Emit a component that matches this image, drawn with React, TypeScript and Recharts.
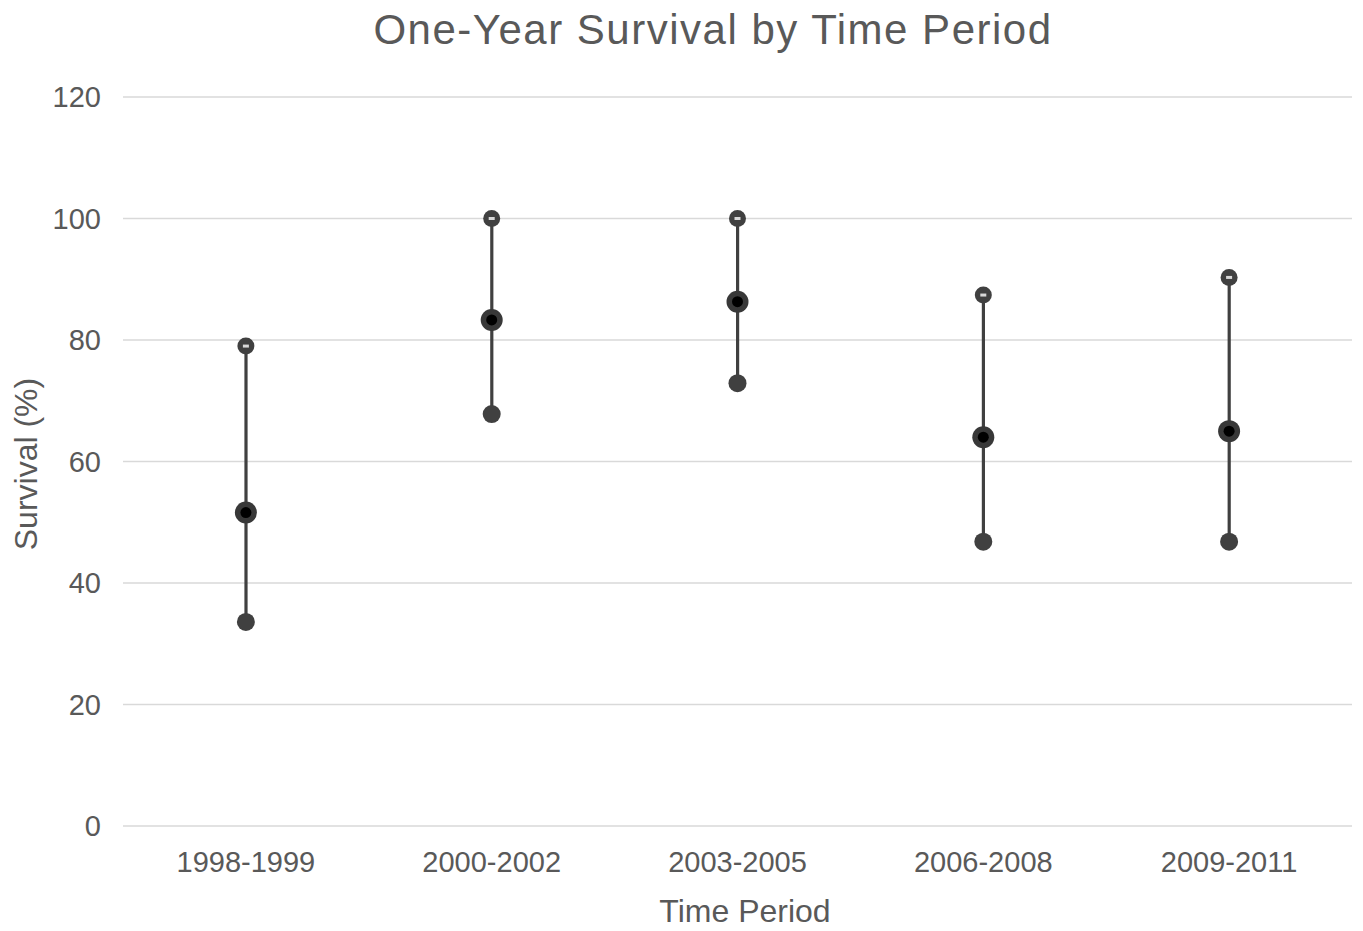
import React from "react";
import { ComposedChart, Bar, Line, XAxis, YAxis, CartesianGrid, Label } from "recharts";

const periods = ["1998-1999", "2000-2002", "2003-2005", "2006-2008", "2009-2011"];
const upperValues = [79, 100, 100, 87.4, 90.3];
const midValues = [51.6, 83.3, 86.3, 64.0, 65.0];
const lowerValues = [33.6, 67.8, 72.9, 46.8, 46.8];
const yTicks = [0, 20, 40, 60, 80, 100, 120];

const data = periods.map((p, i) => ({
  period: p,
  upper: upperValues[i],
  mid: midValues[i],
  lower: lowerValues[i],
  range: [lowerValues[i], upperValues[i]],
}));

const FONT = "'Liberation Sans', Arial, sans-serif";
const TEXT = "#595959";
const MARK = "#404040";

const RangeLine = (props: any) => {
  const { x, y, width, height } = props;
  if (x == null || y == null) return null;
  const cx = x + width / 2;
  const top = Math.min(y, y + height);
  const bottom = Math.max(y, y + height);
  return <line x1={cx} x2={cx} y1={top} y2={bottom} stroke={MARK} strokeWidth={3.2} />;
};

const UpperDot = (props: any) => {
  const { cx, cy, index } = props;
  if (cx == null || cy == null) return <g key={`u${index}`} />;
  return (
    <g key={`u${index}`}>
      <circle cx={cx} cy={cy} r={8.5} fill={MARK} />
      <rect x={cx - 3} y={cy - 1.5} width={6} height={3} fill="#d8d8d8" />
    </g>
  );
};

const MidDot = (props: any) => {
  const { cx, cy, index } = props;
  if (cx == null || cy == null) return <g key={`m${index}`} />;
  return (
    <g key={`m${index}`}>
      <circle cx={cx} cy={cy} r={11} fill="#383838" />
      <circle cx={cx} cy={cy} r={5.5} fill="#000" />
    </g>
  );
};

const LowerDot = (props: any) => {
  const { cx, cy, index } = props;
  if (cx == null || cy == null) return <g key={`l${index}`} />;
  return <circle key={`l${index}`} cx={cx} cy={cy} r={9} fill={MARK} />;
};

const YTitle = () => {
  const cy = 464;
  const cx = 26;
  return (
    <text
      x={cx}
      y={cy}
      transform={`rotate(-90 ${cx} ${cy})`}
      textAnchor="middle"
      dominantBaseline="central"
      fill={TEXT}
      fontSize={32}
      fontFamily={FONT}
    >
      Survival (%)
    </text>
  );
};

const XTitle = () => {
  return (
    <text x={745} y={911} textAnchor="middle" dominantBaseline="central" fill={TEXT} fontSize={32} fontFamily={FONT}>
      Time Period
    </text>
  );
};

export default function App() {
  return (
    <div style={{ position: "absolute", left: 0, top: 0, width: 1363, height: 931, background: "#fff" }}>
      <div
        style={{
          position: "absolute",
          left: 0,
          top: 5,
          width: 1426,
          textAlign: "center",
          fontFamily: FONT,
          fontSize: 42,
          letterSpacing: 1.5,
          color: TEXT,
          lineHeight: "50px",
        }}
      >
        One-Year Survival by Time Period
      </div>
      <ComposedChart
        width={1363}
        height={931}
        data={data}
        margin={{ top: 97, right: 11, bottom: 0, left: 0 }}
      >
        <CartesianGrid vertical={false} stroke="#d9d9d9" strokeWidth={1.5} />
        <XAxis
          dataKey="period"
          axisLine={false}
          tickLine={false}
          height={105}
          tickMargin={19}
          tick={{ fill: TEXT, fontSize: 29, fontFamily: FONT }}
        >
          <Label content={<XTitle />} />
        </XAxis>
        <YAxis
          domain={[0, 120]}
          ticks={yTicks}
          axisLine={false}
          tickLine={false}
          width={123}
          tickMargin={16}
          tick={{ fill: TEXT, fontSize: 29, fontFamily: FONT }}
        >
          <Label content={<YTitle />} />
        </YAxis>
        <Bar dataKey="range" barSize={10} shape={<RangeLine />} isAnimationActive={false} />
        <Line dataKey="lower" stroke="none" dot={LowerDot} activeDot={false} isAnimationActive={false} />
        <Line dataKey="upper" stroke="none" dot={UpperDot} activeDot={false} isAnimationActive={false} />
        <Line dataKey="mid" stroke="none" dot={MidDot} activeDot={false} isAnimationActive={false} />
      </ComposedChart>
    </div>
  );
}
